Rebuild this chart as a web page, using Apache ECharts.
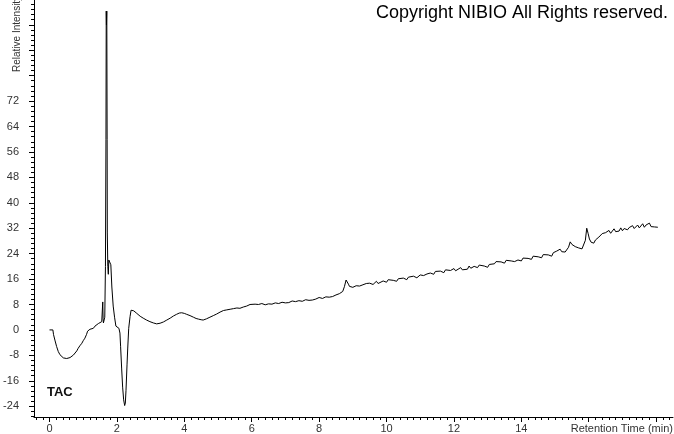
<!DOCTYPE html>
<html>
<head>
<meta charset="utf-8">
<script src="https://cdn.jsdelivr.net/npm/echarts@6/dist/echarts.min.js"></script>
<style>
html,body{margin:0;padding:0;background:#fff;}
#chart{width:674px;height:434px;}
</style>
</head>
<body>
<div id="chart"></div>
<script>
// ---- data ----
var titleText = "Copyright NIBIO All Rights reserved.";
var traceName = "TAC";
var yAxisTitle = "Relative Intensity";
var xAxisTitle = "Retention Time (min)";

var yLabelValues = [-24, -16, -8, 0, 8, 16, 24, 32, 40, 48, 56, 64, 72];
var yMajorTicks = [-24, -16, -8, 0, 8, 16, 24, 32, 40, 48, 56, 64, 72, 80, 88, 96];
var xLabelValues = [0, 2, 4, 6, 8, 10, 12, 14];
var xMajorTicks = [0, 2, 4, 6, 8, 10, 12, 14, 16, 18];

// retention time (min), relative intensity
var tacEarly = [
  [0.00, 0.0], [0.10, 0.0], [0.12, -1.5], [0.16, -3.2], [0.21, -5.2], [0.26, -6.8],
  [0.31, -7.8], [0.36, -8.4], [0.41, -8.8], [0.46, -8.9], [0.51, -9.0], [0.56, -8.9],
  [0.61, -8.7], [0.66, -8.4], [0.71, -7.9], [0.76, -7.3], [0.81, -6.6], [0.85, -5.8],
  [0.90, -5.0], [0.96, -4.2], [1.00, -3.4], [1.05, -2.6], [1.10, -1.4], [1.13, -0.4],
  [1.15, 0.0], [1.20, 0.2], [1.25, 0.3], [1.30, 0.5], [1.35, 1.2], [1.40, 1.6],
  [1.45, 2.0], [1.50, 2.3], [1.55, 2.6], [1.57, 3.0], [1.58, 8.8], [1.59, 3.5],
  [1.60, 2.2], [1.62, 2.6], [1.64, 4.0], [1.66, 20.0], [1.675, 60.0], [1.683, 100.3],
  [1.69, 96.0], [1.70, 100.3], [1.71, 60.0], [1.715, 30.5], [1.73, 20.0], [1.745, 17.5],
  [1.76, 22.0], [1.78, 22.5], [1.80, 21.5], [1.82, 20.5], [1.85, 13.5], [1.89, 7.5],
  [1.93, 4.0], [1.97, 1.2], [2.02, 0.6], [2.06, 0.5], [2.09, -1.0], [2.11, -5.3],
  [2.14, -12.0], [2.17, -18.0], [2.20, -22.0], [2.23, -23.8], [2.25, -23.0], [2.27, -19.0],
  [2.30, -11.0], [2.32, -6.0], [2.35, 0.5], [2.39, 4.2], [2.42, 6.2], [2.44, 6.6],
  [2.50, 6.0], [2.59, 5.2], [2.69, 4.3], [2.78, 3.7], [2.88, 3.1], [2.98, 2.6],
  [3.08, 2.2], [3.18, 1.9], [3.28, 2.1], [3.38, 2.5], [3.48, 3.1], [3.58, 3.7],
  [3.68, 4.4], [3.77, 4.9], [3.85, 5.3], [3.92, 5.4], [4.00, 5.2], [4.07, 4.9],
  [4.17, 4.5], [4.27, 4.0], [4.35, 3.6], [4.42, 3.4], [4.50, 3.2], [4.56, 3.1],
  [4.66, 3.5], [4.76, 4.0], [4.86, 4.5], [4.96, 5.0], [5.06, 5.6], [5.16, 6.1],
  [5.26, 6.3], [5.36, 6.5], [5.46, 6.7], [5.56, 6.9], [5.65, 6.8], [5.75, 7.2],
  [5.85, 7.5], [5.95, 8.0]
];
var tacLate = [
  [6.0, 7.9], [6.1, 8.1], [6.15, 7.8], [6.2, 8.0], [6.3, 8.3], [6.4, 7.9], [6.5, 8.2],
  [6.6, 8.1], [6.7, 8.5], [6.75, 8.1], [6.8, 8.3], [6.9, 8.7], [7.0, 8.5], [7.1, 8.6],
  [7.2, 9.1], [7.25, 8.7], [7.3, 8.9], [7.4, 9.2], [7.5, 9.0], [7.6, 9.5], [7.7, 9.3],
  [7.75, 9.8], [7.8, 9.4], [7.9, 9.7], [8.0, 10.2], [8.1, 9.9], [8.2, 10.4], [8.3, 10.3],
  [8.35, 10.9], [8.4, 10.5], [8.5, 11.0], [8.6, 11.4], [8.65, 11.1], [8.7, 12.1], [8.75, 13.6],
  [8.8, 15.7], [8.83, 15.1], [8.87, 14.4], [8.9, 13.7], [8.95, 14.1], [9.0, 13.4], [9.1, 13.9],
  [9.15, 14.5], [9.2, 13.8], [9.3, 14.2], [9.4, 14.6], [9.45, 14.0], [9.5, 14.7], [9.6, 14.3],
  [9.7, 15.3], [9.75, 14.6], [9.8, 14.9], [9.9, 15.4], [10.0, 15.0], [10.05, 15.8], [10.1, 15.2],
  [10.2, 15.6], [10.3, 15.3], [10.35, 16.1], [10.4, 15.7], [10.5, 16.3], [10.6, 15.8], [10.65, 16.6],
  [10.7, 16.2], [10.8, 16.9], [10.9, 16.4], [11.0, 17.3], [11.05, 16.7], [11.1, 17.1], [11.2, 17.6],
  [11.25, 17.0], [11.3, 17.9], [11.4, 17.5], [11.45, 18.4], [11.5, 17.8], [11.6, 18.5], [11.7, 18.0],
  [11.75, 18.9], [11.8, 18.3], [11.9, 18.7], [12.0, 19.3], [12.05, 18.6], [12.1, 19.0], [12.2, 19.6],
  [12.25, 18.9], [12.3, 19.5], [12.4, 19.1], [12.45, 20.1], [12.5, 19.4], [12.6, 20.0], [12.7, 19.6],
  [12.75, 20.4], [12.8, 19.8], [12.9, 20.1], [13.0, 19.7], [13.05, 20.6], [13.1, 20.2], [13.2, 20.8],
  [13.25, 21.5], [13.3, 20.9], [13.4, 21.4], [13.5, 21.0], [13.55, 21.9], [13.6, 21.3], [13.7, 21.7],
  [13.75, 22.3], [13.8, 21.5], [13.9, 22.0], [14.0, 21.7], [14.05, 22.6], [14.1, 22.1], [14.2, 22.5],
  [14.3, 22.2], [14.35, 23.2], [14.4, 22.6], [14.5, 23.0], [14.6, 22.7], [14.65, 23.7], [14.7, 23.1],
  [14.8, 23.6], [14.9, 23.2], [14.95, 24.3], [15.0, 23.8], [15.05, 24.8], [15.1, 24.2], [15.15, 25.4],
  [15.2, 24.6], [15.25, 25.0], [15.3, 24.5], [15.35, 24.8], [15.4, 26.0], [15.45, 27.7], [15.5, 26.9],
  [15.55, 27.3], [15.6, 26.2], [15.65, 26.6], [15.7, 25.8], [15.75, 26.1], [15.8, 25.5], [15.85, 25.9],
  [15.9, 28.2], [15.94, 32.0], [15.98, 30.4], [16.02, 28.6], [16.07, 27.6], [16.1, 28.1], [16.15, 27.3],
  [16.2, 28.3], [16.25, 28.0], [16.3, 29.2], [16.35, 28.8], [16.4, 30.3], [16.45, 29.7], [16.5, 30.6],
  [16.55, 30.1], [16.6, 31.3], [16.65, 30.4], [16.7, 31.0], [16.75, 31.8], [16.8, 30.9], [16.85, 31.5],
  [16.9, 31.1], [16.95, 32.1], [17.0, 31.2], [17.05, 31.9], [17.1, 32.5], [17.15, 31.5], [17.2, 32.2],
  [17.25, 31.8], [17.3, 32.8], [17.35, 31.9], [17.4, 32.4], [17.45, 33.0], [17.5, 32.1], [17.55, 32.7],
  [17.6, 33.4], [17.65, 32.3], [17.7, 33.0], [17.75, 32.6], [17.8, 33.6], [17.85, 32.5], [17.9, 33.1],
  [17.95, 32.4], [18.0, 32.9], [18.05, 32.3]
];

// ---- axis ranges ----
var xMin = -0.46, xMax = 18.5;
var yMin = -27.4, yMax = 103.8;

function minorList(start, end, step, majors) {
  var out = [];
  var n = Math.round((end - start) / step);
  for (var i = 0; i <= n; i++) {
    var v = Math.round((start + i * step) * 100) / 100;
    var isMajor = majors.some(function (m) { return Math.abs(m - v) < 1e-6; });
    if (!isMajor) out.push(v);
  }
  return out;
}
var xMinorTicks = minorList(-0.4, 18.4, 0.2, xMajorTicks);
var yMinorTicks = minorList(-27.2, 102.4, 1.6, yMajorTicks);

var FONT = "Liberation Sans, Arial, sans-serif";
var chart = echarts.init(document.getElementById('chart'), null, {renderer: 'canvas'});

var axisLineStyle = {color: '#000', width: 1};
var option = {
  animation: false,
  backgroundColor: '#fff',
  grid: {left: 34, right: 1, top: 0, bottom: 17, containLabel: false},
  xAxis: [
    {
      type: 'value', min: xMin, max: xMax, position: 'bottom', offset: 0,
      axisLine: {show: true, onZero: false, lineStyle: axisLineStyle},
      axisTick: {show: true, inside: false, length: 5, customValues: xMajorTicks, lineStyle: axisLineStyle},
      axisLabel: {show: true, customValues: xLabelValues, margin: 6, color: '#333', fontSize: 11, fontFamily: FONT},
      splitLine: {show: false}
    },
    {
      type: 'value', min: xMin, max: xMax, position: 'bottom', offset: 0,
      axisLine: {show: false, onZero: false},
      axisTick: {show: true, inside: false, length: 3, customValues: xMinorTicks, lineStyle: axisLineStyle},
      axisLabel: {show: false},
      splitLine: {show: false}
    }
  ],
  yAxis: [
    {
      type: 'value', min: yMin, max: yMax, position: 'left', offset: 0,
      axisLine: {show: true, onZero: false, lineStyle: axisLineStyle},
      axisTick: {show: true, inside: false, length: 5, customValues: yMajorTicks, lineStyle: axisLineStyle},
      axisLabel: {show: true, customValues: yLabelValues, margin: 15, color: '#333', fontSize: 11, fontFamily: FONT},
      splitLine: {show: false}
    },
    {
      type: 'value', min: yMin, max: yMax, position: 'left', offset: 0,
      axisLine: {show: false, onZero: false},
      axisTick: {show: true, inside: false, length: 3, customValues: yMinorTicks, lineStyle: axisLineStyle},
      axisLabel: {show: false},
      splitLine: {show: false}
    }
  ],
  series: [
    {
      name: traceName, type: 'line', xAxisIndex: 0, yAxisIndex: 0,
      data: tacEarly.concat(tacLate),
      showSymbol: false, symbol: 'none', smooth: false, sampling: null,
      lineStyle: {color: '#000', width: 1},
      silent: true
    }
  ],
  graphic: [
    {type: 'text', right: 6, top: 4, style: {text: titleText, fill: '#000', font: '18px ' + FONT}},
    {type: 'text', left: 47, top: 386, style: {text: traceName, fill: '#111', font: 'bold 13px ' + FONT}},
    {type: 'text', right: 1, top: 423, style: {text: xAxisTitle, fill: '#333', font: '11px ' + FONT}},
    {type: 'text', x: 17, y: 72, rotation: Math.PI / 2,
     style: {text: yAxisTitle, fill: '#333', font: '10px ' + FONT, align: 'left', verticalAlign: 'middle'}}
  ]
};
chart.setOption(option);
</script>
</body>
</html>
